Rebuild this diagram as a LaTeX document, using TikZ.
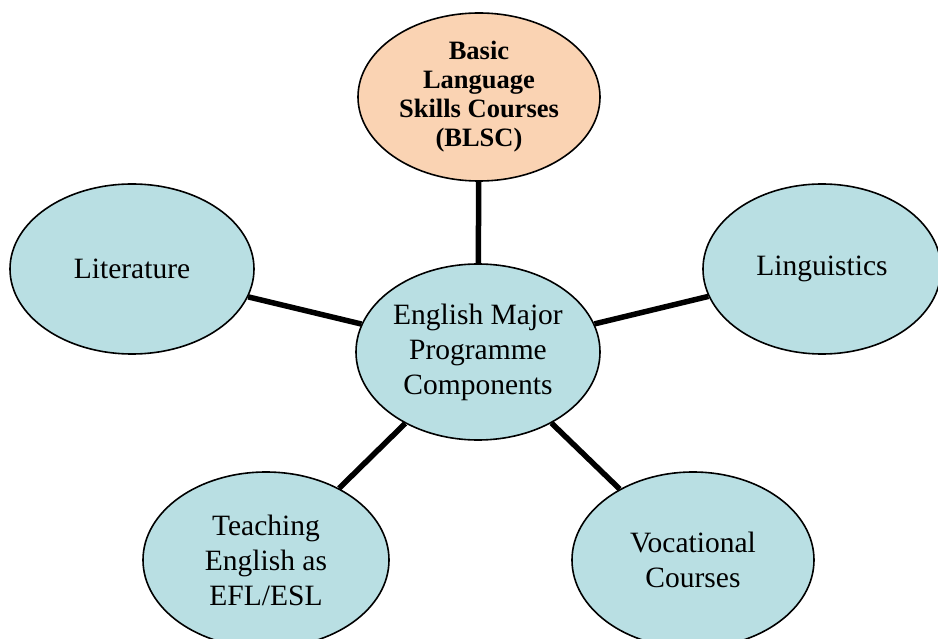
\documentclass[tikz,border=0pt]{standalone}
\usepackage{fontspec}
\setmainfont{Liberation Serif}
\usetikzlibrary{shapes.geometric}
\definecolor{bluefill}{HTML}{B9DFE3}
\definecolor{peachfill}{HTML}{FAD3B3}
\tikzset{
  comp/.style={ellipse, draw=black, line width=1.6pt, fill=bluefill, inner sep=0pt,
    align=center, font=\fontsize{29.5}{35}\selectfont},
  hub/.style={comp, fill=peachfill, font=\fontsize{26.5}{29}\selectfont\bfseries},
  link/.style={line width=5.5pt, draw=black}
}
\begin{document}
\begin{tikzpicture}[x=1pt,y=-1pt]
\useasboundingbox (0,0) rectangle (938,639);
\node[hub, minimum width=242pt, minimum height=168pt] (blsc) at (479,97) {Basic\\Language\\Skills Courses\\(BLSC)};
\node[comp, minimum width=244pt, minimum height=176pt] (emp) at (478,352) {English Major\\Programme\\Components};
\node[comp, minimum width=244pt, minimum height=170pt] (lit) at (132,269) {Literature};
\node[comp, minimum width=238pt, minimum height=170pt] (ling) at (822,269) {Linguistics};
\node[comp, minimum width=246pt, minimum height=176pt] (tefl) at (266,560) {Teaching\\English as\\EFL/ESL};
\node[comp, minimum width=242pt, minimum height=176pt] (voc) at (693,560) {Vocational\\Courses};
\draw[link] (emp) -- (blsc);
\draw[link] (emp) -- (lit);
\draw[link] (emp) -- (ling);
\draw[link] (emp) -- (tefl);
\draw[link] (emp) -- (voc);
\end{tikzpicture}
\end{document}
